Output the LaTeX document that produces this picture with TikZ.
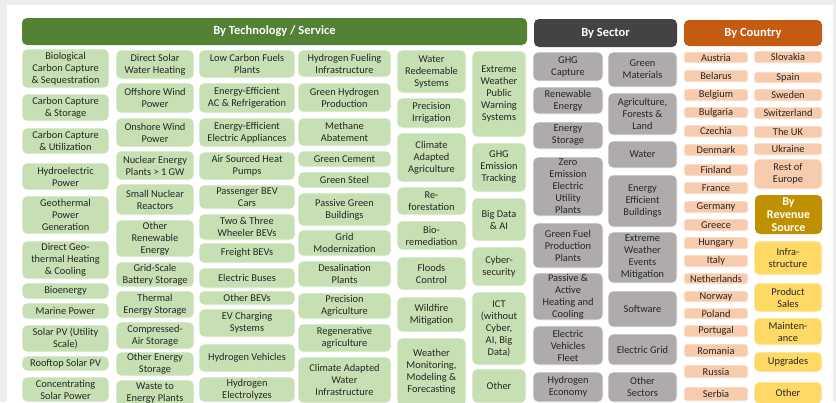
\documentclass[tikz,border=0pt]{standalone}
\usepackage{fontspec}
\setmainfont{Carlito}
\definecolor{bgray}{HTML}{EDEDED}
\definecolor{tfill}{HTML}{C6E0B4}
\definecolor{thead}{HTML}{548235}
\definecolor{sfill}{HTML}{AFABAB}
\definecolor{shead}{HTML}{454242}
\definecolor{cfill}{HTML}{F8CBAD}
\definecolor{chead}{HTML}{C55A11}
\definecolor{rfill}{HTML}{FFD966}
\definecolor{rhead}{HTML}{BF9000}
\definecolor{txtc}{HTML}{262626}
\tikzset{
  basebox/.style={rectangle, rounded corners=5pt, inner sep=0pt, align=center,
    draw=white, line width=0.6pt, text=txtc, font=\fontsize{10.4}{12}\selectfont},
  techbox/.style={basebox, fill=tfill},
  secbox/.style={basebox, fill=sfill},
  ctrybox/.style={basebox, fill=cfill, rounded corners=2.5pt},
  revbox/.style={basebox, fill=rfill},
  headbox/.style={rectangle, rounded corners=5pt, inner sep=0pt, align=center,
    text=white, font=\fontsize{12.5}{13}\selectfont\bfseries},
}
\newcommand\bx[7]{%
  \node[#1, minimum width={(#5-#3)*1pt}, minimum height={(#6-#4)*1pt}] (#2) at ({(#3+#5)/2},{(#4+#6)/2}) {#7};}
\begin{document}
\begin{tikzpicture}[x=1pt,y=-1pt]
\useasboundingbox (0,0) rectangle (836,402);
\clip (0,0) rectangle (836,402);
\fill[bgray] (0,0) rectangle (836,402);
\fill[white] (7,5) rectangle (833,410);
% headers
\bx{headbox,fill=thead}{hT}{22}{18}{527}{45}{By Technology / Service}
\bx{headbox,fill=shead}{hS}{534}{19}{677}{47}{By Sector}
\bx{headbox,fill=chead}{hC}{684}{20}{822}{46}{By Country}
% tech column 1
\bx{techbox}{a1}{22}{49}{109}{88}{Biological\\Carbon Capture\\\& Sequestration}
\bx{techbox}{a2}{22}{94}{109}{121}{Carbon Capture\\\& Storage}
\bx{techbox}{a3}{22}{128}{109}{154}{Carbon Capture\\\& Utilization}
\bx{techbox}{a4}{22}{163}{109}{190}{Hydroelectric\\Power}
\bx{techbox}{a5}{22}{196}{109}{234}{Geothermal\\Power\\Generation}
\bx{techbox}{a6}{22}{241}{109}{279}{Direct Geo-\\thermal Heating\\\& Cooling}
\bx{techbox}{a7}{22}{283}{109}{299}{Bioenergy}
\bx{techbox}{a8}{22}{303}{109}{319}{Marine Power}
\bx{techbox}{a9}{22}{325}{109}{352}{Solar PV (Utility\\Scale)}
\bx{techbox}{a10}{22}{356}{109}{371}{Rooftop Solar PV}
\bx{techbox}{a11}{22}{377}{109}{402}{Concentrating\\Solar Power}
% tech column 2
\bx{techbox}{b1}{116}{50}{194}{79}{Direct Solar\\Water Heating}
\bx{techbox}{b2}{116}{83}{194}{113}{Offshore Wind\\Power}
\bx{techbox}{b3}{116}{118}{194}{147}{Onshore Wind\\Power}
\bx{techbox}{b4}{116}{151}{194}{180}{Nuclear Energy\\Plants > 1 GW}
\bx{techbox}{b5}{116}{184}{194}{215}{Small Nuclear\\Reactors}
\bx{techbox}{b6}{116}{220}{194}{257}{Other\\Renewable\\Energy}
\bx{techbox}{b7}{116}{262}{194}{287}{Grid-Scale\\Battery Storage}
\bx{techbox}{b8}{116}{291}{194}{318}{Thermal\\Energy Storage}
\bx{techbox}{b9}{116}{322}{194}{349}{Compressed-\\Air Storage}
\bx{techbox}{b10}{116}{352}{194}{376}{Other Energy\\Storage}
\bx{techbox}{b11}{116}{380}{194}{407}{Waste to\\Energy Plants}
% tech column 3
\bx{techbox}{c1}{199}{50}{295}{78}{Low Carbon Fuels\\Plants}
\bx{techbox}{c2}{199}{83}{295}{113}{Energy-Efficient\\AC \& Refrigeration}
\bx{techbox}{c3}{199}{118}{295}{147}{Energy-Efficient\\Electric Appliances}
\bx{techbox}{c4}{199}{152}{295}{180}{Air Sourced Heat\\Pumps}
\bx{techbox}{c5}{199}{185}{295}{209}{Passenger BEV\\Cars}
\bx{techbox}{c6}{199}{214}{295}{240}{Two \& Three\\Wheeler BEVs}
\bx{techbox}{c7}{199}{243}{295}{263}{Freight BEVs}
\bx{techbox}{c8}{199}{268}{295}{288}{Electric Buses}
\bx{techbox}{c9}{199}{291}{295}{305}{Other BEVs}
\bx{techbox}{c10}{199}{309}{295}{337}{EV Charging\\Systems}
\bx{techbox}{c11}{199}{344}{295}{372}{Hydrogen Vehicles}
\bx{techbox}{c12}{199}{377}{295}{402}{Hydrogen\\Electrolyzes}
% tech column 4
\bx{techbox}{d1}{298}{50}{391}{77}{Hydrogen Fueling\\Infrastructure}
\bx{techbox}{d2}{298}{83}{391}{112}{Green Hydrogen\\Production}
\bx{techbox}{d3}{298}{118}{391}{146}{Methane\\Abatement}
\bx{techbox}{d4}{298}{151}{391}{167}{Green Cement}
\bx{techbox}{d5}{298}{172}{391}{188}{Green Steel}
\bx{techbox}{d6}{298}{193}{391}{226}{Passive Green\\Buildings}
\bx{techbox}{d7}{298}{230}{391}{256}{Grid\\Modernization}
\bx{techbox}{d8}{298}{261}{391}{287}{Desalination\\Plants}
\bx{techbox}{d9}{298}{293}{391}{319}{Precision\\Agriculture}
\bx{techbox}{d10}{298}{324}{391}{352}{Regenerative\\agriculture}
\bx{techbox}{d11}{298}{357}{391}{403}{Climate Adapted\\Water\\Infrastructure}
% tech column 5
\bx{techbox}{e1}{397}{50}{466}{93}{Water\\Redeemable\\Systems}
\bx{techbox}{e2}{397}{98}{466}{128}{Precision\\Irrigation}
\bx{techbox}{e3}{397}{133}{466}{182}{Climate\\Adapted\\Agriculture}
\bx{techbox}{e4}{397}{187}{466}{215}{Re-\\forestation}
\bx{techbox}{e5}{397}{221}{466}{250}{Bio-\\remediation}
\bx{techbox}{e6}{397}{257}{466}{290}{Floods\\Control}
\bx{techbox}{e7}{397}{297}{466}{332}{Wildfire\\Mitigation}
\bx{techbox}{e8}{397}{338}{466}{406}{Weather\\Monitoring,\\Modeling \&\\Forecasting}
% tech column 6
\bx{techbox}{f1}{472}{51}{526}{137}{Extreme\\Weather\\Public\\Warning\\Systems}
\bx{techbox}{f2}{472}{143}{526}{192}{GHG\\Emission\\Tracking}
\bx{techbox}{f3}{472}{198}{526}{241}{Big Data\\\& AI}
\bx{techbox}{f4}{472}{247}{526}{286}{Cyber-\\security}
\bx{techbox}{f5}{472}{292}{526}{365}{ICT\\(without\\Cyber,\\AI, Big\\Data)}
\bx{techbox}{f6}{472}{369}{526}{403}{Other}
% sector column 1
\bx{secbox}{s1}{533}{52}{603}{81}{GHG\\Capture}
\bx{secbox}{s2}{533}{87}{603}{114}{Renewable\\Energy}
\bx{secbox}{s3}{533}{122}{603}{149}{Energy\\Storage}
\bx{secbox}{s4}{533}{157}{603}{216}{Zero\\Emission\\Electric\\Utility\\Plants}
\bx{secbox}{s5}{533}{223}{603}{268}{Green Fuel\\Production\\Plants}
\bx{secbox}{s6}{533}{273}{603}{320}{Passive \&\\Active\\Heating and\\Cooling}
\bx{secbox}{s7}{533}{326}{603}{365}{Electric\\Vehicles\\Fleet}
\bx{secbox}{s8}{533}{372}{603}{402}{Hydrogen\\Economy}
% sector column 2
\bx{secbox}{t1}{608}{52}{677}{87}{Green\\Materials}
\bx{secbox}{t2}{608}{93}{677}{135}{Agriculture,\\Forests \&\\Land}
\bx{secbox}{t3}{608}{141}{677}{168}{Water}
\bx{secbox}{t4}{608}{175}{677}{227}{Energy\\Efficient\\Buildings}
\bx{secbox}{t5}{608}{232}{677}{283}{Extreme\\Weather\\Events\\Mitigation}
\bx{secbox}{t6}{608}{291}{677}{327}{Software}
\bx{secbox}{t7}{608}{334}{677}{365}{Electric Grid}
\bx{secbox}{t8}{608}{372}{677}{402}{Other\\Sectors}
% country column 1
\bx{ctrybox}{k1}{684}{52}{748}{63}{Austria}
\bx{ctrybox}{k2}{684}{70}{748}{82}{Belarus}
\bx{ctrybox}{k3}{684}{89}{748}{101}{Belgium}
\bx{ctrybox}{k4}{684}{107}{748}{118}{Bulgaria}
\bx{ctrybox}{k5}{684}{125}{748}{137}{Czechia}
\bx{ctrybox}{k6}{684}{144}{748}{156}{Denmark}
\bx{ctrybox}{k7}{684}{164}{748}{176}{Finland}
\bx{ctrybox}{k8}{684}{182}{748}{194}{France}
\bx{ctrybox}{k9}{684}{201}{748}{213}{Germany}
\bx{ctrybox}{k10}{684}{219}{748}{231}{Greece}
\bx{ctrybox}{k11}{684}{237}{748}{249}{Hungary}
\bx{ctrybox}{k12}{684}{255}{748}{267}{Italy}
\bx{ctrybox}{k13}{684}{273}{748}{284}{Netherlands}
\bx{ctrybox}{k14}{684}{291}{748}{302}{Norway}
\bx{ctrybox}{k15}{684}{308}{748}{319}{Poland}
\bx{ctrybox}{k16}{684}{325}{748}{337}{Portugal}
\bx{ctrybox}{k17}{684}{344}{748}{357}{Romania}
\bx{ctrybox}{k18}{684}{365}{748}{378}{Russia}
\bx{ctrybox}{k19}{684}{387}{748}{401}{Serbia}
% country column 2
\bx{ctrybox}{m1}{754}{51}{822}{63}{Slovakia}
\bx{ctrybox}{m2}{754}{72}{822}{83}{Spain}
\bx{ctrybox}{m3}{754}{89}{822}{101}{Sweden}
\bx{ctrybox}{m4}{754}{107}{822}{119}{Switzerland}
\bx{ctrybox}{m5}{754}{126}{822}{138}{The UK}
\bx{ctrybox}{m6}{754}{143}{822}{155}{Ukraine}
\bx{ctrybox,rounded corners=5pt}{m7}{754}{159}{822}{189}{Rest of\\Europe}
% revenue
\bx{headbox,fill=rhead,font=\fontsize{12}{13}\selectfont\bfseries}{hR}{755}{195}{822}{234}{By\\Revenue\\Source}
\bx{revbox}{r1}{754}{241}{822}{275}{Infra-\\structure}
\bx{revbox}{r2}{754}{283}{822}{312}{Product\\Sales}
\bx{revbox}{r3}{754}{318}{822}{345}{Mainten-\\ance}
\bx{revbox}{r4}{754}{352}{822}{372}{Upgrades}
\bx{revbox}{r5}{754}{382}{822}{404}{Other}
\end{tikzpicture}
\end{document}
